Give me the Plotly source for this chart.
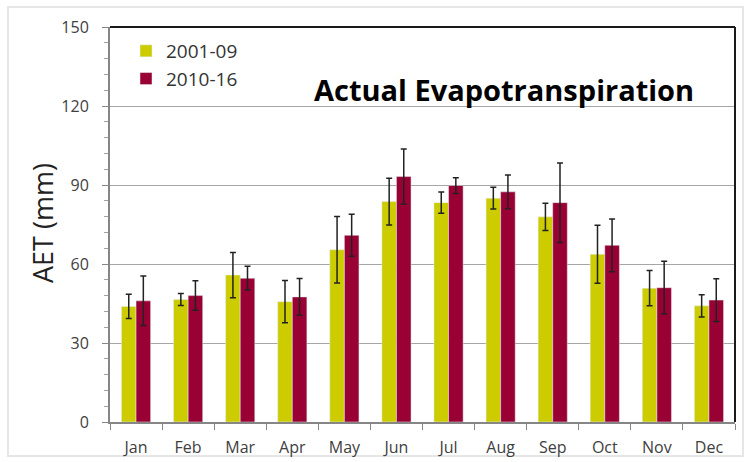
import plotly.graph_objects as go

# data
months = ["Jan", "Feb", "Mar", "Apr", "May", "Jun", "Jul", "Aug", "Sep", "Oct", "Nov", "Dec"]
aet_2001_09 = [43.9, 46.5, 55.8, 45.7, 65.4, 83.7, 83.3, 85.0, 77.9, 63.7, 50.8, 44.1]
err_2001_09 = [4.6, 2.3, 8.6, 8.0, 12.6, 8.9, 4.0, 4.1, 5.2, 11.0, 6.7, 4.2]
aet_2010_16 = [46.0, 48.0, 54.6, 47.5, 70.9, 93.2, 89.8, 87.4, 83.3, 67.1, 51.0, 46.3]
err_2010_16 = [9.4, 5.6, 4.5, 7.0, 8.0, 10.5, 3.0, 6.4, 15.1, 10.0, 10.0, 8.1]

W, H = 751, 462
L, R, T, B = 110, 16, 27, 40
pw, ph = W - L - R, H - T - B


def px(x):
    return (x - L) / pw


def py(y):
    return (H - B - y) / ph


fig = go.Figure()

fig.add_trace(go.Bar(
    x=months, y=aet_2001_09, name="2001-09",
    marker_color="#CCCC00",
    error_y=dict(type="data", array=err_2001_09, color="#222222", thickness=1.5, width=3)
))
fig.add_trace(go.Bar(
    x=months, y=aet_2010_16, name="2010-16",
    marker_color="#990033",
    error_y=dict(type="data", array=err_2010_16, color="#222222", thickness=1.5, width=3)
))

# outer light frame
fig.add_shape(type="rect", xref="paper", yref="paper",
              x0=px(8), x1=px(743), y0=py(456), y1=py(7),
              line=dict(color="#e6e6e6", width=2), layer="below")

# plot frame (top + right dark)
fig.add_shape(type="line", xref="paper", yref="paper", x0=0, x1=1, y0=1, y1=1,
              line=dict(color="#1a1a1a", width=2))
fig.add_shape(type="line", xref="paper", yref="paper", x0=1, x1=1, y0=0, y1=1,
              line=dict(color="#1a1a1a", width=2))

fig.add_annotation(
    text="<b>Actual Evapotranspiration</b>", xref="paper", yref="paper",
    x=px(504), y=py(68), showarrow=False,
    font=dict(family="Open Sans", size=29, color="#000000")
)

# y axis title
fig.add_annotation(
    text="AET (mm)", xref="paper", yref="paper",
    x=px(42), y=py(223), xanchor="center", yanchor="middle",
    showarrow=False, textangle=-90,
    font=dict(family="Open Sans", size=27, color="#222222")
)

fig.update_layout(
    width=W, height=H,
    margin=dict(l=L, r=R, t=T, b=B),
    paper_bgcolor="white", plot_bgcolor="white",
    barmode="group", bargap=0.44, bargroupgap=0,
    font=dict(family="Open Sans", color="#404040"),
    legend=dict(
        x=px(126), y=py(32), xanchor="left", yanchor="top",
        bgcolor="rgba(0,0,0,0)", font=dict(size=19, color="#333333"),
        itemwidth=30
    ),
    showlegend=True
)

fig.update_xaxes(
    showline=True, linecolor="#868686", linewidth=2, automargin=False,
    ticks="outside", tickson="boundaries", ticklen=6, tickcolor="#868686",
    ticklabelstandoff=10,
    tickfont=dict(size=16, color="#404040"), showgrid=False
)
fig.update_yaxes(
    range=[0, 150], dtick=30, showline=True, linecolor="#868686", linewidth=2,
    automargin=False,
    ticks="outside", ticklen=6, tickcolor="#868686", ticklabelstandoff=10,
    minor=dict(dtick=6, ticks="outside", ticklen=4, tickcolor="#a0a0a0"),
    showgrid=True, gridcolor="#a6a6a6", gridwidth=1, zeroline=False,
    tickfont=dict(size=16, color="#404040")
)

fig.write_html("out.html", config={"displayModeBar": False},
               post_script="document.body.style.margin='0';")
